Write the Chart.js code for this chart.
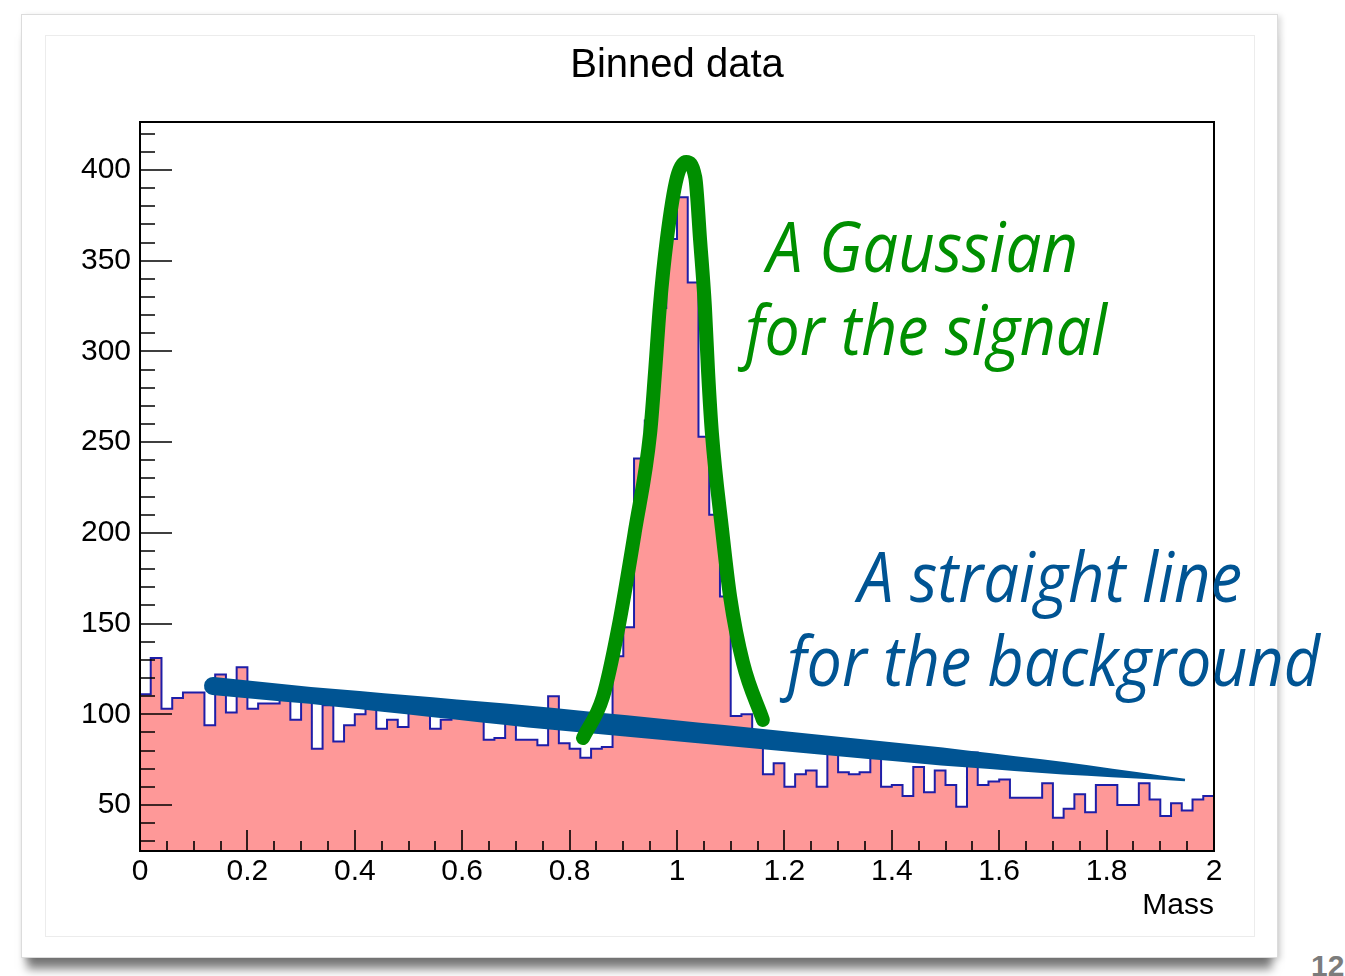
<!DOCTYPE html>
<html>
<head>
<meta charset="utf-8">
<title>Binned data</title>
<script src="https://cdn.jsdelivr.net/npm/chart.js@4.4.1/dist/chart.umd.min.js"></script>
<style>
  html, body { margin: 0; padding: 0; background: #fff; }
  body { width: 1345px; height: 976px; position: relative; overflow: hidden; }
  #card {
    position: absolute; left: 21px; top: 14px; width: 1255px; height: 942px;
    background: #fff; border: 1px solid #dcdcdc;
    box-shadow: 0 17px 9px -6px rgba(0,0,0,0.5), 3px 2px 6px rgba(0,0,0,0.15);
  }
  #pad { position: absolute; left: 45px; top: 35px; width: 1208px; height: 900px; border: 1px solid #ececec; }
  #slide-no {
    position: absolute; left: 1311px; top: 951px;
    font: bold 30px/30px "Liberation Sans", Arial, sans-serif; color: #7c7c7c;
  }
  #chart { position: absolute; left: 0; top: 0; }
</style>
</head>
<body>
<div id="card"></div>
<div id="pad"></div>
<div id="slide-no">12</div>
<canvas id="chart" width="1345" height="976"></canvas>
<script>
// histogram binning
var nBins = 100;
var xMin = 0;
var xMax = 2;

// entries per bin
var counts = [
  111, 131, 103, 109, 112, 112,  94, 122, 101, 126,
  103, 106, 106, 110,  97, 108,  81, 105,  85,  94,
  100, 103,  92,  97,  93, 104, 103,  92,  97, 101,
   99,  97,  86,  87,  98,  86,  86,  83, 110,  84,
   81,  76,  81,  82, 132, 148, 241, 262, 324, 362,
  385, 338, 253, 210, 165,  99, 100,  88,  67,  73,
   60,  67,  69,  60,  82,  68,  67,  68,  78,  60,
   61,  55,  71,  57,  69,  61,  49,  79,  61,  63,
   64,  54,  54,  54,  62,  43,  48,  56,  46,  61,
   61,  50,  50,  62,  53,  44,  51,  47,  53,  55
];

var xTickValues = [0, 0.2, 0.4, 0.6, 0.8, 1, 1.2, 1.4, 1.6, 1.8, 2];
var xTickLabels = ["0", "0.2", "0.4", "0.6", "0.8", "1", "1.2", "1.4", "1.6", "1.8", "2"];
var yTickValues = [50, 100, 150, 200, 250, 300, 350, 400];
var yMin = 24.65;
var yMax = 426.5;

// hand drawn marker strokes (mass, entries)
var signalStroke = [
  { x: 0.825, y: 86.9 }, { x: 0.862, y: 109.5 }, { x: 0.890, y: 146.5 },
  { x: 0.922, y: 201.6 }, { x: 0.950, y: 255.1 }, { x: 0.959, y: 288.1 },
  { x: 0.968, y: 324.5 }, { x: 0.981, y: 361.5 }, { x: 1.000, y: 396.0 },
  { x: 1.017, y: 404.5 }, { x: 1.034, y: 396.0 }, { x: 1.043, y: 361.5 },
  { x: 1.052, y: 324.5 }, { x: 1.058, y: 288.1 }, { x: 1.065, y: 255.1 },
  { x: 1.084, y: 201.6 }, { x: 1.099, y: 164.7 }, { x: 1.123, y: 128.3 },
  { x: 1.160, y: 96.9 }
];
var backgroundStroke = [{ x: 0.136, y: 115.6 }, { x: 1.946, y: 63.8 }];
// half width of the blue marker along the stroke
var backgroundWidth = [[0, 9], [0.1, 8.5], [0.33, 11], [0.6, 10], [0.75, 9], [0.87, 6.5], [1, 1.2]];

var green = "#008f00";
var blue = "#005493";

var binWidth = (xMax - xMin) / nBins;
var histPoints = counts.map(function (c, i) {
  return { x: xMin + i * binWidth, y: c };
});
histPoints.push({ x: xMax, y: counts[counts.length - 1] });

function halfWidth(t) {
  for (var i = 1; i < backgroundWidth.length; i++) {
    var a = backgroundWidth[i - 1], b = backgroundWidth[i];
    if (t <= b[0]) return a[1] + (b[1] - a[1]) * (t - a[0]) / (b[0] - a[0]);
  }
  return backgroundWidth[backgroundWidth.length - 1][1];
}

function drawFitted(ctx, text, left, right, baseline, size, color) {
  ctx.save();
  ctx.font = "italic " + size + "px 'Open Sans'";
  var w = ctx.measureText(text).width;
  ctx.translate(left, baseline);
  ctx.scale((right - left) / w, 1);
  ctx.fillStyle = color;
  ctx.textBaseline = "alphabetic";
  ctx.fillText(text, 0, 0);
  ctx.restore();
}

// blue marker line, drawn right after the histogram so the green one sits above it
var markerLine = {
  id: "markerLine",
  afterDatasetDraw: function (chart, args) {
    if (args.index !== 0) return;
    var ctx = chart.ctx, x = chart.scales.x, y = chart.scales.y;
    var p1 = { x: x.getPixelForValue(backgroundStroke[0].x), y: y.getPixelForValue(backgroundStroke[0].y) };
    var p2 = { x: x.getPixelForValue(backgroundStroke[1].x), y: y.getPixelForValue(backgroundStroke[1].y) };
    var dx = p2.x - p1.x, dy = p2.y - p1.y, len = Math.hypot(dx, dy);
    var nx = -dy / len, ny = dx / len;
    var top = [], bottom = [];
    for (var k = 0; k <= 40; k++) {
      var t = k / 40, hw = halfWidth(t);
      var cx = p1.x + dx * t, cy = p1.y + dy * t;
      top.push([cx - nx * hw, cy - ny * hw]);
      bottom.push([cx + nx * hw, cy + ny * hw]);
    }
    ctx.save();
    ctx.fillStyle = blue;
    ctx.beginPath();
    ctx.moveTo(top[0][0], top[0][1]);
    top.forEach(function (p) { ctx.lineTo(p[0], p[1]); });
    bottom.reverse().forEach(function (p) { ctx.lineTo(p[0], p[1]); });
    var ang = Math.atan2(dy, dx);
    ctx.arc(p1.x, p1.y, backgroundWidth[0][1], ang + Math.PI / 2, ang + Math.PI * 1.5);
    ctx.closePath();
    ctx.fill();
    ctx.restore();
  }
};

// frame, inward ticks, title and notes
var rootFrame = {
  id: "rootFrame",
  afterDatasetsDraw: function (chart) {
    var ctx = chart.ctx, a = chart.chartArea, x = chart.scales.x, y = chart.scales.y;
    ctx.save();
    ctx.strokeStyle = "#000";
    ctx.lineWidth = 1.6;
    ctx.beginPath();
    for (var i = 0; i <= 40; i++) {
      var px = Math.round(x.getPixelForValue(i * 0.05));
      var l = i % 4 === 0 ? 21 : 10;
      ctx.moveTo(px, a.bottom);
      ctx.lineTo(px, a.bottom - l);
    }
    for (var v = 30; v <= 420; v += 10) {
      var py = Math.round(y.getPixelForValue(v));
      var ly = v % 50 === 0 ? 32 : 15;
      ctx.moveTo(a.left, py);
      ctx.lineTo(a.left + ly, py);
    }
    ctx.stroke();
    ctx.lineWidth = 2;
    ctx.strokeRect(a.left, a.top, a.right - a.left, a.bottom - a.top);

    ctx.fillStyle = "#000";
    ctx.font = "40px 'Liberation Sans'";
    ctx.textAlign = "center";
    ctx.fillText("Binned data", (a.left + a.right) / 2, 77);
    ctx.restore();

    drawFitted(ctx, "A Gaussian", 767, 1078, 272, 70, green);
    drawFitted(ctx, "for the signal", 745, 1107, 355, 70, green);
    drawFitted(ctx, "A straight line", 858, 1242, 602, 70, blue);
    drawFitted(ctx, "for the background", 787, 1320, 686, 70, blue);
  }
};

Chart.defaults.font.family = "'Liberation Sans', Arial, sans-serif";
Chart.defaults.color = "#000";

new Chart(document.getElementById("chart"), {
  type: "line",
  data: {
    datasets: [
      {
        label: "Binned data",
        data: histPoints,
        stepped: "before",
        fill: "start",
        backgroundColor: "#fe9898",
        borderColor: "#1e1ea8",
        borderWidth: 2,
        pointRadius: 0,
        order: 2
      },
      {
        label: "signal",
        data: signalStroke,
        borderColor: green,
        borderWidth: 14,
        borderCapStyle: "round",
        borderJoinStyle: "round",
        cubicInterpolationMode: "monotone",
        pointRadius: 0,
        fill: false,
        order: 1
      }
    ]
  },
  options: {
    responsive: false,
    animation: false,
    devicePixelRatio: 1,
    layout: { padding: { top: 122, left: 60, right: 131, bottom: 45 } },
    plugins: {
      legend: { display: false },
      tooltip: { enabled: false },
      title: { display: false }
    },
    scales: {
      x: {
        type: "linear",
        min: xMin,
        max: xMax,
        grid: { display: false, drawTicks: false },
        border: { display: false },
        afterFit: function (s) { s.height = 80; },
        afterBuildTicks: function (s) {
          s.ticks = xTickValues.map(function (v) { return { value: v }; });
        },
        ticks: {
          padding: 3,
          autoSkip: false,
          maxRotation: 0,
          font: { size: 30 },
          callback: function (v, i) { return xTickLabels[i]; }
        },
        title: {
          display: true,
          text: "Mass",
          align: "end",
          font: { size: 30 },
          padding: { top: 0, bottom: 7 }
        }
      },
      y: {
        type: "linear",
        min: yMin,
        max: yMax,
        grid: { display: false, drawTicks: false },
        border: { display: false },
        afterFit: function (s) { s.width = 80; },
        afterBuildTicks: function (s) {
          s.ticks = yTickValues.map(function (v) { return { value: v }; });
        },
        ticks: {
          padding: 9,
          font: { size: 30 },
          callback: function (v) { return String(v); }
        }
      }
    }
  },
  plugins: [markerLine, rootFrame]
});
</script>
</body>
</html>
